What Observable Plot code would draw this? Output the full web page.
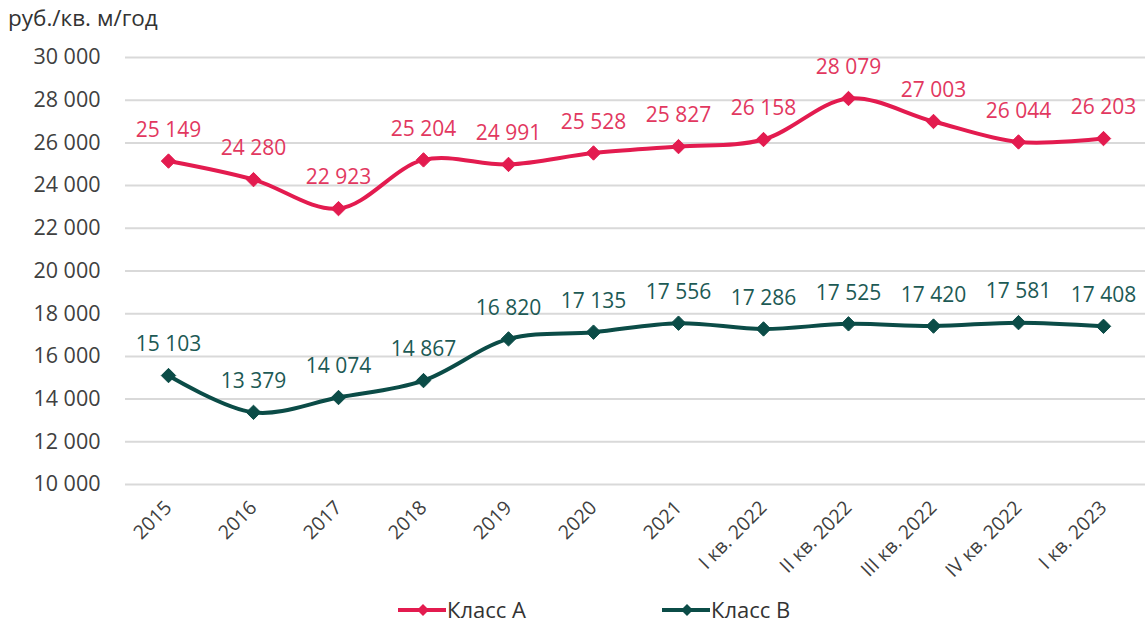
<!DOCTYPE html>
<html>
<head>
<meta charset="utf-8">
<script src="https://cdn.jsdelivr.net/npm/d3@7"></script>
<script src="https://cdn.jsdelivr.net/npm/@observablehq/plot@0.6"></script>
<style>
  html, body { margin: 0; padding: 0; background: #fff; }
  body { width: 1148px; height: 623px; overflow: hidden; font-family: "Open Sans", sans-serif; }
  #title { position: absolute; left: 8px; top: 2px; font-size: 22.5px; color: #333; }
  #chart { position: absolute; left: 0; top: 40px; }
  #legend { position: absolute; top: 596px; left: 0; width: 1148px; height: 27px; font-size: 22px; line-height: 27px; color: #333; }
  .item { position: absolute; top: 0; display: flex; align-items: center; height: 27px; }
  .item svg { display: block; }
</style>
</head>
<body>
<div id="title">руб./кв. м/год</div>
<div id="chart"></div>
<div id="legend"></div>
<script>
const categories = ["2015","2016","2017","2018","2019","2020","2021","I кв. 2022","II кв. 2022","III кв. 2022","IV кв. 2022","I кв. 2023"];
const classA = [25149,24280,22923,25204,24991,25528,25827,26158,28079,27003,26044,26203];
const classB = [15103,13379,14074,14867,16820,17135,17556,17286,17525,17420,17581,17408];
const yTicks = [10000,12000,14000,16000,18000,20000,22000,24000,26000,28000,30000];
const seriesNames = ["Класс А", "Класс В"];
const seriesColors = ["#e31b4f", "#0b4c47"];
const labelColors = ["#e2385f", "#1d5a55"];

const locale = d3.formatLocale({decimal: ",", thousands: " ", grouping: [3], currency: ["", ""]});
const fmt = locale.format(",d");

const rowsA = categories.map((c, i) => ({cat: c, value: classA[i]}));
const rowsB = categories.map((c, i) => ({cat: c, value: classB[i]}));

function seriesMarks(rows, k) {
  return [
    Plot.line(rows, {x: "cat", y: "value", stroke: seriesColors[k], strokeWidth: 4, curve: "catmull-rom"}),
    Plot.dot(rows, {x: "cat", y: "value", symbol: "diamond2", fill: seriesColors[k], stroke: seriesColors[k], strokeWidth: 1, r: 6.5}),
    Plot.text(rows, {x: "cat", y: "value", text: d => fmt(d.value), dy: -31, fill: labelColors[k], fontSize: 21})
  ];
}

const chart = Plot.plot({
  width: 1148,
  height: 556,
  marginLeft: 125,
  marginRight: 3,
  marginTop: 17,
  marginBottom: 112,
  style: {fontFamily: "Open Sans", fontSize: "21px", color: "#404040", background: "white"},
  x: {type: "point", domain: categories, padding: 0.5, label: null},
  y: {domain: [10000, 30000], label: null},
  marks: [
    Plot.ruleY(yTicks, {stroke: "#d9d9d9", strokeWidth: 2}),
    Plot.axisY({ticks: yTicks, tickSize: 0, tickPadding: 25, tickFormat: fmt, fontSize: 21.5, label: null}),
    Plot.axisX({tickSize: 0, tickRotate: -45, tickPadding: 20, fontSize: 19.5, label: null}),
    ...seriesMarks(rowsA, 0),
    ...seriesMarks(rowsB, 1)
  ]
});
document.getElementById("chart").appendChild(chart);

const legend = document.getElementById("legend");
const legendX = [398, 662];
seriesNames.forEach((name, k) => {
  const item = document.createElement("div");
  item.className = "item";
  item.style.left = legendX[k] + "px";
  item.innerHTML = `<svg width="49" height="14"><line x1="0" y1="7" x2="48" y2="7" stroke="${seriesColors[k]}" stroke-width="4"/><path d="M25 1 L31 7 L25 13 L19 7 Z" fill="${seriesColors[k]}"/></svg><span>${name}</span>`;
  legend.appendChild(item);
});
</script>
</body>
</html>
